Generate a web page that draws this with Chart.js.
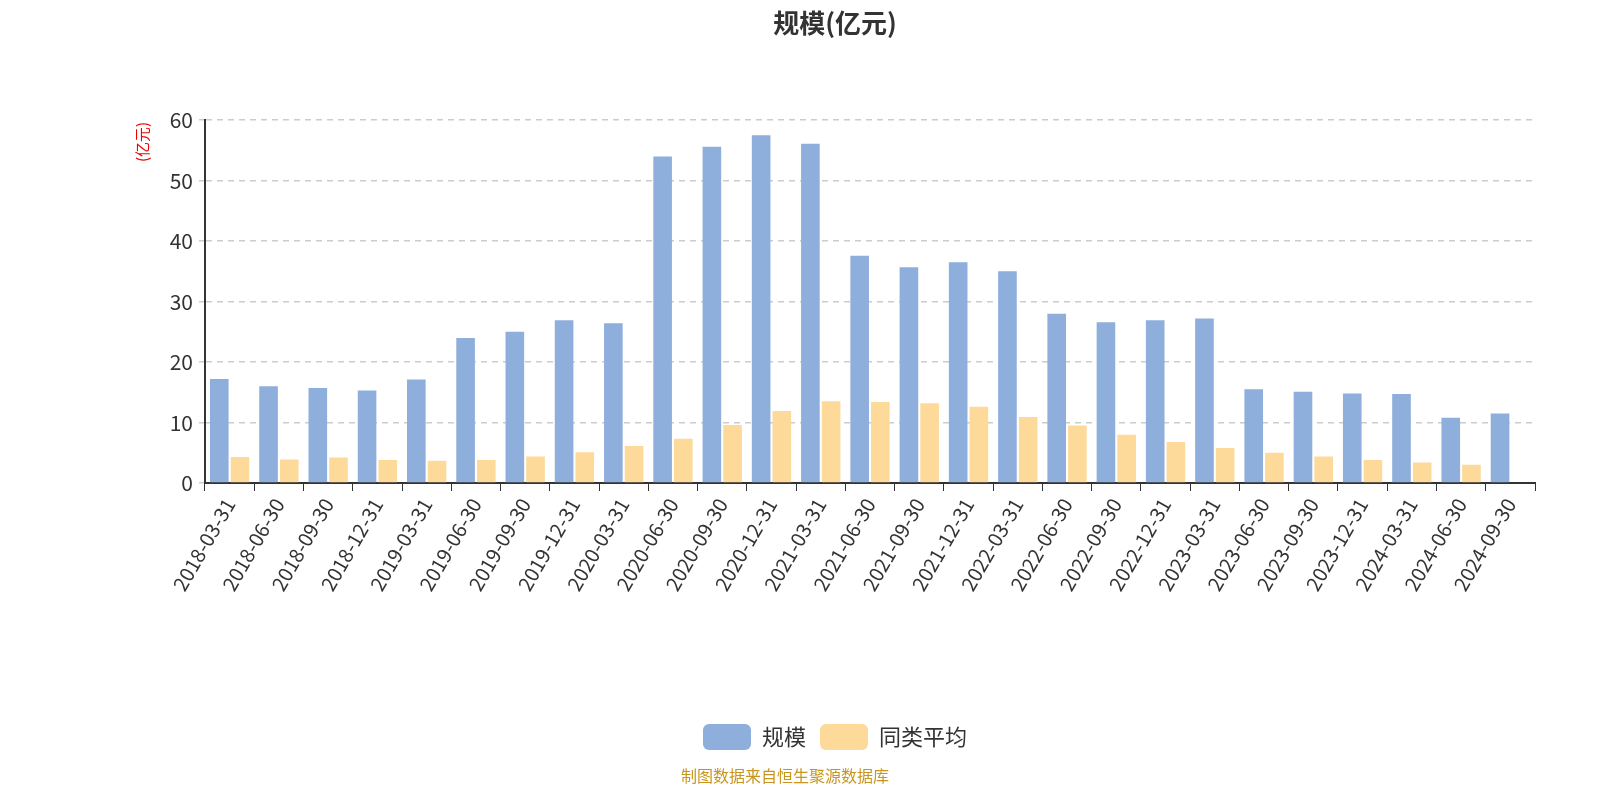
<!DOCTYPE html>
<html>
<head>
<meta charset="utf-8">
<script src="https://cdn.jsdelivr.net/npm/chart.js@4"></script>
<style>
  body { margin: 0; background: #fff; }
  #wrap { position: relative; width: 1600px; height: 800px; }
  #src { position: absolute; left: 0; width: 1570px; top: 763px; text-align: center;
         font: 16px "Noto Sans CJK SC", sans-serif; color: #c8961e; }
</style>
</head>
<body>
<div id="wrap">
  <canvas id="grafico" width="1600" height="800"></canvas>
  <div id="src">制图数据来自恒生聚源数据库</div>
</div>
<script>
// dados
const datas = ["2018-03-31","2018-06-30","2018-09-30","2018-12-31","2019-03-31","2019-06-30","2019-09-30","2019-12-31","2020-03-31","2020-06-30","2020-09-30","2020-12-31","2021-03-31","2021-06-30","2021-09-30","2021-12-31","2022-03-31","2022-06-30","2022-09-30","2022-12-31","2023-03-31","2023-06-30","2023-09-30","2023-12-31","2024-03-31","2024-06-30","2024-09-30"];
const escala = [17.2,16.0,15.7,15.3,17.1,24.0,25.0,26.9,26.4,54.0,55.6,57.5,56.1,37.6,35.7,36.5,35.0,28.0,26.6,26.9,27.2,15.5,15.1,14.8,14.7,10.8,11.5];
const media = [4.3,3.9,4.2,3.8,3.7,3.8,4.4,5.1,6.1,7.3,9.6,11.9,13.5,13.4,13.2,12.6,10.9,9.5,8.0,6.8,5.8,5.0,4.4,3.8,3.4,3.0,null];
const yTicks = [0,10,20,30,40,50,60];

const fonte = "'Noto Sans CJK SC', sans-serif";

// título do eixo y
const eixoTitulo = {
  id: "eixoTitulo",
  afterDraw(chart) {
    const c = chart.ctx;
    c.save();
    c.translate(142, 142);
    c.rotate(-Math.PI / 2);
    c.fillStyle = "#e00";
    c.font = "15px " + fonte;
    c.textAlign = "center";
    c.textBaseline = "middle";
    c.fillText("(亿元)", 0, 0);
    c.restore();
  }
};

new Chart(document.getElementById("grafico"), {
  type: "bar",
  data: {
    labels: datas,
    datasets: [
      { label: "规模", data: escala, backgroundColor: "#8eaedb", categoryPercentage: 0.84, barPercentage: 0.9 },
      { label: "同类平均", data: media, backgroundColor: "#fdd99a", categoryPercentage: 0.84, barPercentage: 0.9 }
    ]
  },
  options: {
    responsive: false,
    animation: false,
    layout: { padding: { left: 135, right: 65, top: 0, bottom: 40 } },
    plugins: {
      title: {
        display: true, text: "规模(亿元)", color: "#333",
        font: { size: 26, weight: "bold", family: fonte },
        padding: { top: 8, bottom: 81 }
      },
      legend: {
        position: "bottom",
        labels: {
          color: "#333", font: { size: 22, family: fonte },
          boxWidth: 48, boxHeight: 26, useBorderRadius: true, borderRadius: 6, padding: 14
        }
      },
      tooltip: { enabled: false }
    },
    scales: {
      x: {
        offset: true,
        grid: { offset: true, drawOnChartArea: false, tickLength: 8, color: "#333" },
        border: { color: "#333", width: 2 },
        ticks: { color: "#333", font: { size: 20, family: fonte }, maxRotation: 60, minRotation: 60, autoSkip: false },
        afterFit(s) { s.height = 227; }
      },
      y: {
        min: 0, max: 60,
        afterBuildTicks(s) { s.ticks = yTicks.map(v => ({ value: v })); },
        afterFit(s) { s.width = 70; },
        grid: { color: "#ccc", lineWidth: 1.5, tickLength: 6, drawTicks: true },
        border: { color: "#333", width: 2, dash: [6, 5] },
        ticks: { color: "#333", font: { size: 21, family: fonte }, padding: 6 }
      }
    }
  },
  plugins: [eixoTitulo]
});
</script>
</body>
</html>
